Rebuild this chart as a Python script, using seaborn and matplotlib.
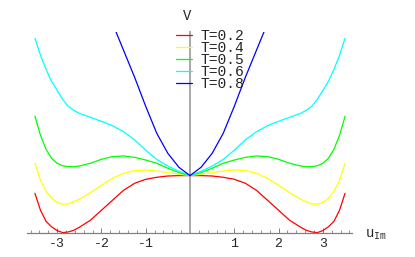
import numpy as np
import pandas as pd
import seaborn as sns
import matplotlib.pyplot as plt
from matplotlib.ticker import FixedLocator

# curves are even in u, so only the right half (u >= 0) is listed and mirrored
u_half = [0, 0.25, 0.5, 0.75, 1, 1.25, 1.5, 1.75, 2, 2.25, 2.5,
          2.625, 2.75, 2.875, 3, 3.125, 3.25, 3.375, 3.5]
v_02 = [1.0, 1.0, 0.993, 0.971, 0.936, 0.867, 0.745, 0.572, 0.399, 0.225, 0.104,
        0.052, 0.023, 0.012, 0.047, 0.113, 0.208, 0.399, 0.693]
v_04 = [1.0, 1.023, 1.052, 1.08, 1.097, 1.087, 1.04, 0.953, 0.832, 0.705, 0.589,
        0.546, 0.508, 0.503, 0.537, 0.607, 0.728, 0.919, 1.213]
v_05 = [1.0, 1.052, 1.127, 1.213, 1.27, 1.317, 1.34, 1.329, 1.282, 1.213, 1.166,
        1.153, 1.156, 1.17, 1.213, 1.3, 1.456, 1.698, 2.028]
v_06 = [1.0, 1.075, 1.165, 1.28, 1.44, 1.62, 1.76, 1.865, 1.941, 2.01, 2.08,
        2.132, 2.201, 2.322, 2.478, 2.634, 2.842, 3.085, 3.38]
u_half_08 = [0, 0.25, 0.5, 0.75, 1, 1.25, 1.5, 1.75]
v_08 = [1.0, 1.144, 1.386, 1.733, 2.201, 2.704, 3.172, 3.64]

temps = ["T=0.2", "T=0.4", "T=0.5", "T=0.6", "T=0.8"]
colors = ["#ff0000", "#ffff00", "#00ff00", "#00ffff", "#0000ff"]
tick_pos = [-3, -2, -1, 1, 2, 3]
tick_labels = ["-3", "-2", "-1", "1", "2", "3"]


def mirror(half, neg=False):
    left = [-x for x in half[:0:-1]] if neg else half[:0:-1]
    return left + half


sns.set_style("white")
plt.rcParams['font.family'] = ['Liberation Mono', 'DejaVu Sans Mono']
plt.rcParams['mathtext.fontset'] = 'custom'
plt.rcParams['mathtext.tt'] = 'Liberation Mono'
plt.rcParams['mathtext.rm'] = 'Liberation Mono'

fig = plt.figure(figsize=(4.15, 2.57), dpi=100)
ax = fig.add_axes([0, 0, 1, (257 - 32) / 257])

u = mirror(u_half, neg=True)
u8 = mirror(u_half_08, neg=True)
series = [(u, v_02), (u, v_04), (u, v_05), (u, v_06), (u8, v_08)]
for (x, half), name, c in zip(series, temps, colors):
    sns.lineplot(x=x, y=mirror(half), color=c, lw=0.9, label=name, ax=ax,
                 estimator=None, sort=False)

ax.set_xlim(-190 / 44.3, 225 / 44.3)
ax.set_ylim(-23.7 / 57.7, 201.3 / 57.7)

for s in ["top", "right"]:
    ax.spines[s].set_visible(False)
ax.spines["bottom"].set_position(("data", 0))
ax.spines["bottom"].set_bounds(-3.68, 3.66)
ax.spines["bottom"].set_color("#808080")
ax.spines["bottom"].set_linewidth(0.9)
ax.spines["left"].set_position(("data", 0))
ax.spines["left"].set_bounds(0, 201.3 / 57.7)
ax.spines["left"].set_color("#a8a8a8")
ax.spines["left"].set_linewidth(1.4)
ax.spines["left"].set_zorder(0.5)

ax.set_yticks([])
ax.set_xticks(tick_pos)
ax.set_xticklabels(tick_labels)
ax.xaxis.set_minor_locator(FixedLocator([k / 5 for k in range(-18, 19) if k % 5]))
ax.tick_params(axis="x", which="major", direction="in", length=3.5, width=0.7,
               color="#808080", labelsize=9.5, pad=3.5, bottom=True)
ax.tick_params(axis="x", which="minor", direction="in", length=2, width=0.6,
               color="#808080", bottom=True)
ax.set_xlabel("")
ax.set_ylabel("")

ax.text(3.95, -0.03, r"$\mathtt{u}_{\mathtt{Im}}$", fontsize=10, ha="left", va="center")
fig.text(187 / 415, 1 - 16 / 257, "V", fontsize=10, ha="center", va="center")

ax.legend(loc="upper left", bbox_to_anchor=(176 / 415, 1 - 29 / 257),
          bbox_transform=fig.transFigure, frameon=False, fontsize=10.5,
          handlelength=1.1, handletextpad=0.6, labelspacing=-0.14,
          borderpad=0, borderaxespad=0)

fig.savefig("out.png", dpi=100)
